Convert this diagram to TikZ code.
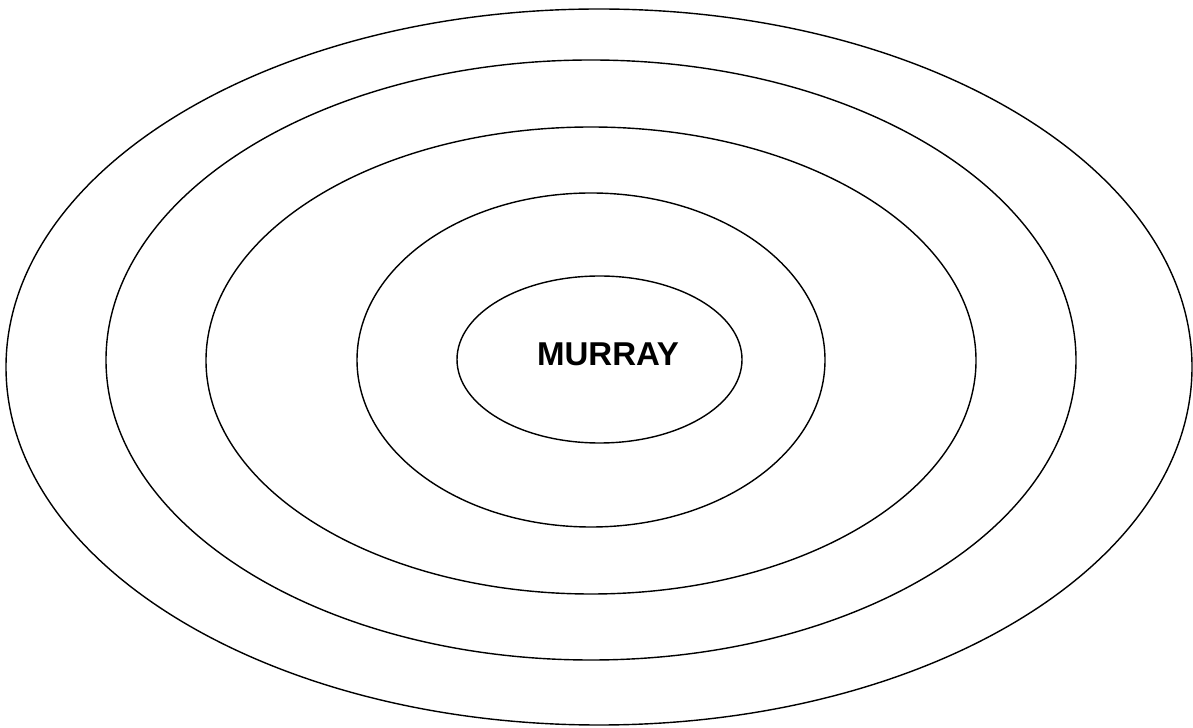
\documentclass[tikz,border=0pt]{standalone}
\usepackage{fontspec}
\setmainfont{Liberation Sans}
\usetikzlibrary{positioning}
\tikzset{ring/.style={black,line width=0.8pt}}

\begin{document}
\begin{tikzpicture}[x=0.02cm,y=0.02cm]
  \useasboundingbox (0,0) rectangle (1193,727);
  % rings, outermost first
  \foreach \cx/\cy/\rx/\ry in {599/360/593/358,591/367/485/300,591/366.5/385/233.5,591/367/234/167,599.5/367.5/142.5/83.5} {
    \draw[ring] (\cx,\cy) ellipse [x radius=\rx, y radius=\ry];
  }
  \node[font=\fontsize{18.8}{22}\selectfont\bfseries] (murray) at (608,373) {MURRAY};
\end{tikzpicture}
\end{document}
